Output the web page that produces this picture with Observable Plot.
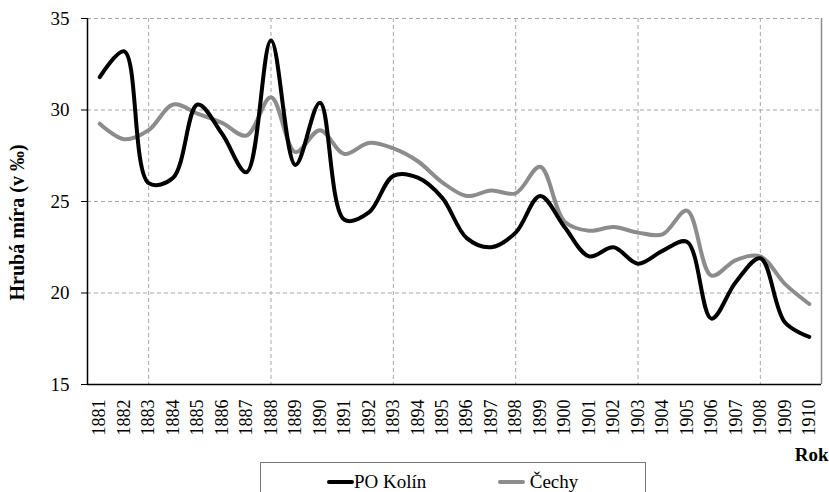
<!DOCTYPE html>
<html>
<head>
<meta charset="utf-8">
<script src="https://cdn.jsdelivr.net/npm/d3@7"></script>
<script src="https://cdn.jsdelivr.net/npm/@observablehq/plot@0.6"></script>
<style>
  html, body { margin: 0; padding: 0; background: #fff; overflow: hidden; }
  #wrap { position: relative; width: 829px; height: 492px; }
  svg, svg text { font-family: "Liberation Serif", "Tinos", "Nimbus Roman", "Times", "DejaVu Serif", serif !important; }
  #legend {
    position: absolute; left: 260px; top: 462px; width: 386px; height: 40px;
    border: 1px solid #777; box-sizing: border-box; background: #fff;
    font-family: "Liberation Serif", "Tinos", "Nimbus Roman", "Times", "DejaVu Serif", serif !important; font-size: 19px; color: #000;
  }
  .item { position: absolute; top: 8px; display: flex; align-items: center; }
  .sw { display: inline-block; width: 27px; height: 4px; border-radius: 2px; }
</style>
</head>
<body>
<div id="wrap">
  <div id="chart"></div>
  <div id="legend">
    <div class="item" style="left:66px"><span class="sw" style="background:#000"></span><span>PO Kolín</span></div>
    <div class="item" style="left:237px"><span class="sw" style="background:#8c8c8c"></span><span>&nbsp;Čechy</span></div>
  </div>
</div>
<script>
const years = [1881,1882,1883,1884,1885,1886,1887,1888,1889,1890,1891,1892,1893,1894,1895,1896,1897,1898,1899,1900,1901,1902,1903,1904,1905,1906,1907,1908,1909,1910];
const kolin = [31.8,33.2,26.0,26.3,30.3,28.7,26.6,33.8,27.0,30.4,24.0,24.4,26.4,26.3,25.2,23.0,22.5,23.3,25.3,23.6,22.0,22.5,21.6,22.3,22.8,18.6,20.6,21.9,18.4,17.6];
const cechy = [29.25,28.4,28.9,30.3,29.8,29.3,28.6,30.7,27.7,28.9,27.6,28.2,27.9,27.2,26.05,25.3,25.6,25.45,26.9,23.9,23.4,23.6,23.3,23.2,24.5,20.95,21.8,22.0,20.5,19.4];
const yTicks = [15,20,25,30,35];
const xGrid = [1883,1888,1893,1898,1903,1908];
const seriesNames = ["PO Kolín","Čechy"];

const rows = [];
years.forEach((yr,i) => {
  rows.push({year: yr, value: kolin[i], series: seriesNames[0]});
  rows.push({year: yr, value: cechy[i], series: seriesNames[1]});
});
const xDomain = [years[0]-0.5, years[years.length-1]+0.5];
const font = "'Liberation Serif', 'Tinos', 'Nimbus Roman', 'DejaVu Serif', serif";

const chart = Plot.plot({
  width: 829,
  height: 492,
  marginLeft: 87,
  marginRight: 8,
  marginTop: 18,
  marginBottom: 108,
  style: {fontFamily: font, fontSize: "18px", color: "#000", background: "transparent", overflow: "visible"},
  x: {domain: xDomain},
  y: {domain: [15,35]},
  marks: [
    Plot.ruleY(yTicks.filter(d => d > 15), {y: d => d, stroke: "#a6a6a6", strokeDasharray: "4,3", strokeWidth: 1}),
    Plot.ruleX(xGrid, {x: d => d, stroke: "#a6a6a6", strokeDasharray: "4,3", strokeWidth: 1}),
    Plot.ruleX([xDomain[1]], {x: d => d, stroke: "#8c8c8c", strokeWidth: 1.5}),
    Plot.axisY({ticks: yTicks, tickSize: 6, tickPadding: 12, label: null, fontSize: 19}),
    Plot.axisX({ticks: years, tickSize: 0, tickPadding: 15, tickRotate: -90, tickFormat: d => String(d), label: null, fontSize: 18}),
    Plot.ruleX([xDomain[0]], {x: d => d, stroke: "#000", strokeWidth: 1.5}),
    Plot.ruleY([15], {y: d => d, stroke: "#000", strokeWidth: 1.5}),
    Plot.line(rows.filter(d => d.series === seriesNames[1]), {x: "year", y: "value", stroke: "#8c8c8c", strokeWidth: 4, curve: "catmull-rom"}),
    Plot.line(rows.filter(d => d.series === seriesNames[0]), {x: "year", y: "value", stroke: "#000", strokeWidth: 4, curve: "catmull-rom"}),
    Plot.text(["Rok"], {frameAnchor: "bottom-right", dy: 76, dx: 7, text: d => d, fontWeight: "bold", fontSize: 19, textAnchor: "end", lineAnchor: "bottom"}),
    Plot.text(["Hrubá míra (v ‰)"], {frameAnchor: "left", dx: -70, dy: 21, rotate: -90, text: d => d, fontWeight: "bold", fontSize: 20, textAnchor: "middle"})
  ]
});
document.getElementById("chart").appendChild(chart);
</script>
</body>
</html>
